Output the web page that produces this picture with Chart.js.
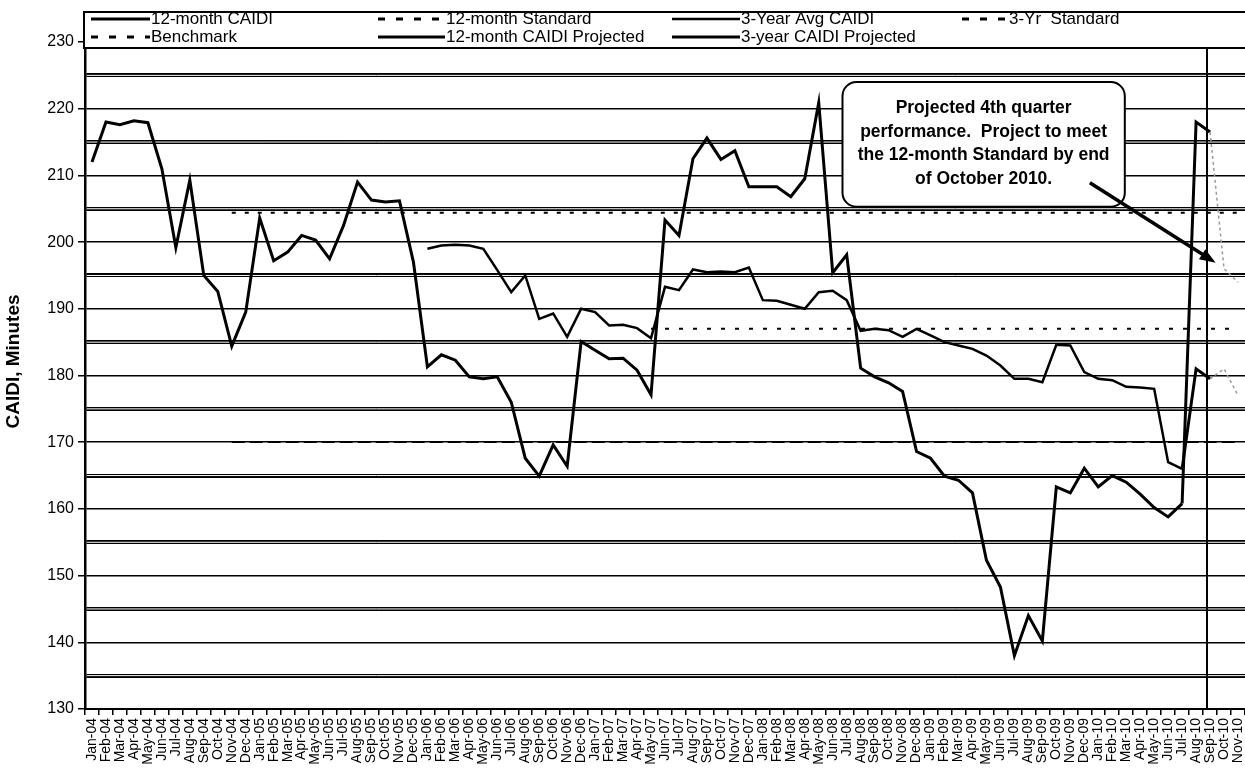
<!DOCTYPE html>
<html>
<head>
<meta charset="utf-8">
<script src="https://cdn.jsdelivr.net/npm/chart.js@4.4.1/dist/chart.umd.min.js"></script>
<style>
  html, body { margin: 0; padding: 0; background: #fff; }
</style>
</head>
<body>
<canvas id="chart" width="1245" height="771"></canvas>
<script>
// categories: Jan-04 .. Nov-10
const monthNames = ['Jan', 'Feb', 'Mar', 'Apr', 'May', 'Jun', 'Jul', 'Aug', 'Sep', 'Oct', 'Nov', 'Dec'];
const years = ['04', '05', '06', '07', '08', '09', '10'];
const months = [];
years.forEach(y => monthNames.forEach(m => months.push(m + '-' + y)));
months.length = 83;

// 12-month CAIDI, Jan-04 .. Jul-10
const caidi12 = [
  212, 218, 217.6, 218.2, 217.9, 211, 199.2, 209.3, 195, 192.6, 184.4, 189.5,
  203.6, 197.2, 198.5, 201, 200.3, 197.5, 202.5, 209, 206.3, 206, 206.2, 197,
  181.3, 183.1, 182.3, 179.8, 179.5, 179.8, 176, 167.6, 164.9, 169.6, 166.4, 185.1,
  183.8, 182.5, 182.6, 180.8, 177.1, 203.3, 201, 212.5, 215.6, 212.4, 213.7, 208.3,
  208.3, 208.3, 206.8, 209.5, 220.9, 195.4, 198.1, 181.1, 179.8, 178.9, 177.6, 168.6,
  167.6, 164.9, 164.3, 162.4, 152.3, 148.3, 138, 144, 140.2, 163.3, 162.4, 166.1,
  163.3, 165, 164, 162.2, 160.2, 158.8, 160.8
];

// 3-Year Avg CAIDI, Jan-06 .. Jul-10
const caidi3Start = 'Jan-06';
const caidi3 = [
  199, 199.5, 199.6, 199.5, 199, 195.8, 192.5, 195, 188.5, 189.3, 185.8, 190,
  189.5, 187.5, 187.6, 187.1, 185.6, 193.3, 192.8, 195.9, 195.5, 195.6, 195.5, 196.2,
  191.3, 191.2, 190.6, 190, 192.5, 192.7, 191.3, 186.7, 187, 186.8, 185.8, 187,
  186, 185, 184.5, 184, 183, 181.5, 179.5, 179.5, 179, 184.6, 184.5, 180.5,
  179.5, 179.3, 178.3, 178.2, 178, 167, 166
];

// projections, Jul-10 .. Nov-10
const projStart = 'Jul-10';
const caidi12Proj = [160.8, 218, 216.5, 196, 194];
const caidi3Proj = [166, 181, 179.5, 181, 177];

// standards
const std12 = 204.4, std12Start = 'Nov-04';
const std3 = 187, std3Start = 'May-07';
const benchmark = 170, benchmarkStart = 'Nov-04';

const yTickValues = [130, 135, 140, 145, 150, 155, 160, 165, 170, 175, 180,
  185, 190, 195, 200, 205, 210, 215, 220, 225, 230];
const projectionLine = 'Sep-10';

const noteLines = ['Projected 4th quarter', 'performance.  Project to meet',
  'the 12-month Standard by end', 'of October 2010.'];

function placeAt(start, values) {
  const out = months.map(() => null);
  const s = months.indexOf(start);
  values.forEach((v, i) => { out[s + i] = v; });
  return out;
}
function flatFrom(start, value) {
  const s = months.indexOf(start);
  return months.map((m, i) => i >= s ? value : null);
}

const grayAfter = months.indexOf(projectionLine);

const datasets = [
  { label: '12-month CAIDI', data: caidi12, borderColor: '#000', borderWidth: 3 },
  { label: '12-month Standard', data: flatFrom(std12Start, std12), borderColor: '#000', borderWidth: 2, borderDash: [4, 9] },
  { label: '3-Year Avg CAIDI', data: placeAt(caidi3Start, caidi3), borderColor: '#000', borderWidth: 2.5 },
  { label: '3-Yr  Standard', data: flatFrom(std3Start, std3), borderColor: '#000', borderWidth: 2, borderDash: [4, 10] },
  { label: 'Benchmark', data: flatFrom(benchmarkStart, benchmark), borderColor: '#000', borderWidth: 1.5, borderDash: [13, 5] },
  { label: '12-month CAIDI Projected', data: placeAt(projStart, caidi12Proj), borderColor: '#000', borderWidth: 3 },
  { label: '3-year CAIDI Projected', data: placeAt(projStart, caidi3Proj), borderColor: '#000', borderWidth: 3 }
];
datasets.forEach(d => {
  d.pointRadius = 0;
  d.tension = 0;
  d.fill = false;
  d.spanGaps = false;
  if (d.label.indexOf('Projected') >= 0) {
    d.segment = {
      borderColor: ctx => ctx.p0DataIndex >= grayAfter ? '#9a9a9a' : '#000',
      borderDash: ctx => ctx.p0DataIndex >= grayAfter ? [3, 3] : [],
      borderWidth: ctx => ctx.p0DataIndex >= grayAfter ? 1.5 : 3
    };
  }
});

// legend grid: [column, row]
const legendSlots = [[0, 0], [1, 0], [2, 0], [3, 0], [0, 1], [1, 1], [2, 1]];
const legendCols = [[91, 150], [378, 445], [672, 740], [962, 1008]];
const legendRows = [19, 37];

const framePlugin = {
  id: 'frame',
  beforeDatasetsDraw(chart) {
    const { ctx, chartArea, scales } = chart;
    ctx.save();
    ctx.strokeStyle = '#fff';
    ctx.lineWidth = 1;
    yTickValues.filter(v => v % 10 === 5).forEach(v => {
      const y = scales.y.getPixelForValue(v);
      ctx.beginPath();
      ctx.moveTo(chartArea.left + 2, y);
      ctx.lineTo(chartArea.right, y);
      ctx.stroke();
    });
    ctx.restore();
  },
  afterDatasetsDraw(chart) {
    const { ctx, chartArea, scales } = chart;
    const xs = scales.x, ys = scales.y;
    ctx.save();

    // projection separator
    const vx = Math.round(xs.getPixelForValue(months.indexOf(projectionLine))) - 3;
    ctx.strokeStyle = '#000';
    ctx.lineWidth = 2;
    ctx.beginPath();
    ctx.moveTo(vx, chartArea.top);
    ctx.lineTo(vx, chartArea.bottom);
    ctx.stroke();

    // top border
    ctx.lineWidth = 2.5;
    ctx.beginPath();
    ctx.moveTo(chartArea.left, chartArea.top);
    ctx.lineTo(chartArea.right, chartArea.top);
    ctx.stroke();

    // legend box
    ctx.fillStyle = '#fff';
    ctx.fillRect(84, 12, 1170, 36);
    ctx.lineWidth = 2;
    ctx.strokeRect(84, 12, 1170, 36);
    ctx.font = "17px 'Liberation Sans', Arial, sans-serif";
    ctx.textBaseline = 'middle';
    ctx.textAlign = 'left';
    ctx.fillStyle = '#000';
    chart.data.datasets.forEach((d, i) => {
      const [c, r] = legendSlots[i];
      const [x0, x1] = legendCols[c];
      const y = legendRows[r];
      ctx.lineWidth = d.borderDash ? 3 : d.borderWidth;
      ctx.setLineDash(d.borderDash ? [7, 11] : []);
      ctx.beginPath();
      ctx.moveTo(x0, y);
      ctx.lineTo(x1, y);
      ctx.stroke();
      ctx.setLineDash([]);
      ctx.fillText(d.label, x1 + 1, y);
    });

    // note box
    const bx0 = xs.getPixelForValue(53.7), bx1 = xs.getPixelForValue(73.9);
    const by0 = ys.getPixelForValue(224.0), by1 = ys.getPixelForValue(205.3);
    const rad = 14;
    ctx.beginPath();
    ctx.moveTo(bx0 + rad, by0);
    ctx.arcTo(bx1, by0, bx1, by1, rad);
    ctx.arcTo(bx1, by1, bx0, by1, rad);
    ctx.arcTo(bx0, by1, bx0, by0, rad);
    ctx.arcTo(bx0, by0, bx1, by0, rad);
    ctx.closePath();
    ctx.fillStyle = '#fff';
    ctx.fill();
    ctx.lineWidth = 2;
    ctx.strokeStyle = '#000';
    ctx.stroke();
    ctx.fillStyle = '#000';
    ctx.font = "bold 17.5px 'Liberation Sans', Arial, sans-serif";
    ctx.textAlign = 'center';
    noteLines.forEach((t, i) => {
      ctx.fillText(t, (bx0 + bx1) / 2, by0 + 26 + i * 23.7);
    });

    // arrow
    const ax0 = xs.getPixelForValue(71.4), ay0 = ys.getPixelForValue(208.9);
    const ax1 = xs.getPixelForValue(80.4), ay1 = ys.getPixelForValue(196.9);
    const ang = Math.atan2(ay1 - ay0, ax1 - ax0);
    ctx.lineWidth = 3.5;
    ctx.beginPath();
    ctx.moveTo(ax0, ay0);
    ctx.lineTo(ax1 - 12 * Math.cos(ang), ay1 - 12 * Math.sin(ang));
    ctx.stroke();
    ctx.beginPath();
    ctx.moveTo(ax1, ay1);
    ctx.lineTo(ax1 - 16 * Math.cos(ang) + 6 * Math.sin(ang), ay1 - 16 * Math.sin(ang) - 6 * Math.cos(ang));
    ctx.lineTo(ax1 - 16 * Math.cos(ang) - 6 * Math.sin(ang), ay1 - 16 * Math.sin(ang) + 6 * Math.cos(ang));
    ctx.closePath();
    ctx.fill();

    ctx.restore();
  }
};

Chart.defaults.font.family = "'Liberation Sans', Arial, sans-serif";
Chart.defaults.color = '#000';

new Chart(document.getElementById('chart'), {
  type: 'line',
  data: { labels: months, datasets: datasets },
  options: {
    responsive: false,
    devicePixelRatio: 1,
    animation: false,
    layout: { padding: { top: 14, left: 0, right: 0, bottom: 0 } },
    plugins: { legend: { display: false }, tooltip: { enabled: false } },
    scales: {
      x: {
        offset: true,
        grid: { display: true, drawOnChartArea: false, offset: true, tickLength: 6, color: '#000', lineWidth: 1.5 },
        border: { color: '#000', width: 2 },
        ticks: { autoSkip: false, minRotation: 90, maxRotation: 90, padding: 3, font: { size: 14 } },
        afterFit: s => { s.height = 62; s.paddingLeft = 0; s.paddingRight = 0; }
      },
      y: {
        min: 130,
        max: 234.2,
        afterBuildTicks: s => { s.ticks = yTickValues.map(v => ({ value: v })); },
        afterFit: s => { s.width = 85; s.paddingTop = 0; s.paddingBottom = 0; },
        grid: {
          color: '#000',
          lineWidth: ctx => (ctx.tick && ctx.tick.value % 10 === 5) ? 4 : 1.5,
          tickColor: ctx => (ctx.tick && ctx.tick.value % 10 === 0) ? '#000' : 'rgba(0,0,0,0)',
          tickLength: 7,
          tickWidth: 1.5
        },
        border: { color: '#000', width: 2.5 },
        ticks: {
          padding: 4,
          font: { size: 16 },
          callback: v => v % 10 === 0 ? v : ''
        },
        title: { display: true, text: 'CAIDI, Minutes', font: { size: 19, weight: 'bold' }, padding: { top: 2, bottom: 0 } }
      }
    }
  },
  plugins: [framePlugin]
});
</script>
</body>
</html>
